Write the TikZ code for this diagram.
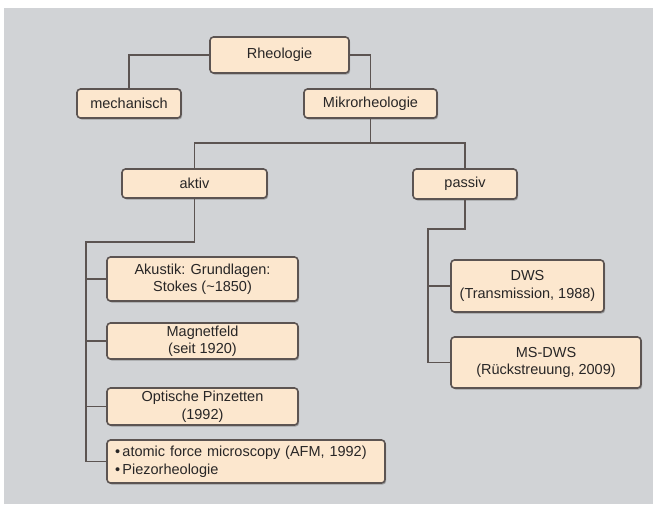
\documentclass[tikz,border=0pt]{standalone}
\usepackage{fontspec}
\setmainfont{Liberation Sans}
\usetikzlibrary{shadows}
\definecolor{bggray}{RGB}{209,211,214}
\definecolor{boxfill}{RGB}{252,231,206}
\definecolor{boxline}{RGB}{92,84,82}
\definecolor{txt}{RGB}{40,38,38}
\tikzset{
  box/.style={draw=boxline, fill=boxfill, line width=1.6pt, rounded corners=3.5pt,
    inner sep=0pt, align=center, text=txt,
    font=\fontsize{14.5}{17.5}\selectfont,
    drop shadow={shadow xshift=1.2pt, shadow yshift=-1.5pt, opacity=0.25, fill=black}},
  conn/.style={draw=boxline, line width=1.6pt},
}
\begin{document}
\begin{tikzpicture}[x=1pt,y=-1pt]
\useasboundingbox (0,0) rectangle (653,504);
\fill[white] (0,0) rectangle (653,504);
\fill[bggray] (4,8) rectangle (653,504);

\node[box, minimum width=139pt, minimum height=36pt] (rheo) at (279.5,55) {Rheologie};
\node[box, minimum width=104pt, minimum height=29pt] (mech) at (129,103.5) {mechanisch};
\node[box, minimum width=133pt, minimum height=29pt] (mikro) at (370.5,103.5) {Mikrorheologie};
\node[box, minimum width=145pt, minimum height=29pt] (aktiv) at (194.5,183.5) {aktiv};
\node[box, minimum width=104pt, minimum height=30pt] (passiv) at (465,184) {passiv};

\node[box, minimum width=191pt, minimum height=44pt] (akustik) at (202.5,279) {Akustik: Grundlagen:\\Stokes (\textasciitilde1850)};
\node[box, minimum width=191pt, minimum height=36pt] (magnet) at (202.5,341) {Magnetfeld\\(seit 1920)};
\node[box, minimum width=191pt, minimum height=37pt] (optisch) at (202.5,406.5) {Optische Pinzetten\\(1992)};
\node[box, minimum width=278pt, minimum height=43pt, align=left, text width=262pt] (afm) at (246,461.5) {•\,atomic force microscopy (AFM, 1992)\\•\,Piezorheologie};

\node[box, minimum width=153pt, minimum height=52pt] (dws) at (527.5,286) {DWS\\(Transmission, 1988)};
\node[box, minimum width=190pt, minimum height=51pt] (msdws) at (546,362.5) {MS-DWS\\(Rückstreuung, 2009)};

\coordinate (jm) at (370.5,143);
\coordinate (abus) at (86,242);
\coordinate (pbus) at (428,229);

\begin{scope}[on background layer/.try]
\end{scope}
\draw[conn] (rheo.west) -| (mech.north);
\draw[conn] (rheo.east) -| (mikro.north);
\draw[conn] (mikro.south) -- (jm);
\draw[conn] (aktiv.north) |- (jm) -| (passiv.north);
\draw[conn] (aktiv.south) |- (abus) |- (afm.west);
\draw[conn] (abus |- akustik.west) -- (akustik.west);
\draw[conn] (abus |- magnet.west) -- (magnet.west);
\draw[conn] (abus |- optisch.west) -- (optisch.west);
\draw[conn] (passiv.south) |- (pbus) |- (msdws.west);
\draw[conn] (pbus |- dws.west) -- (dws.west);
\end{tikzpicture}
\end{document}
